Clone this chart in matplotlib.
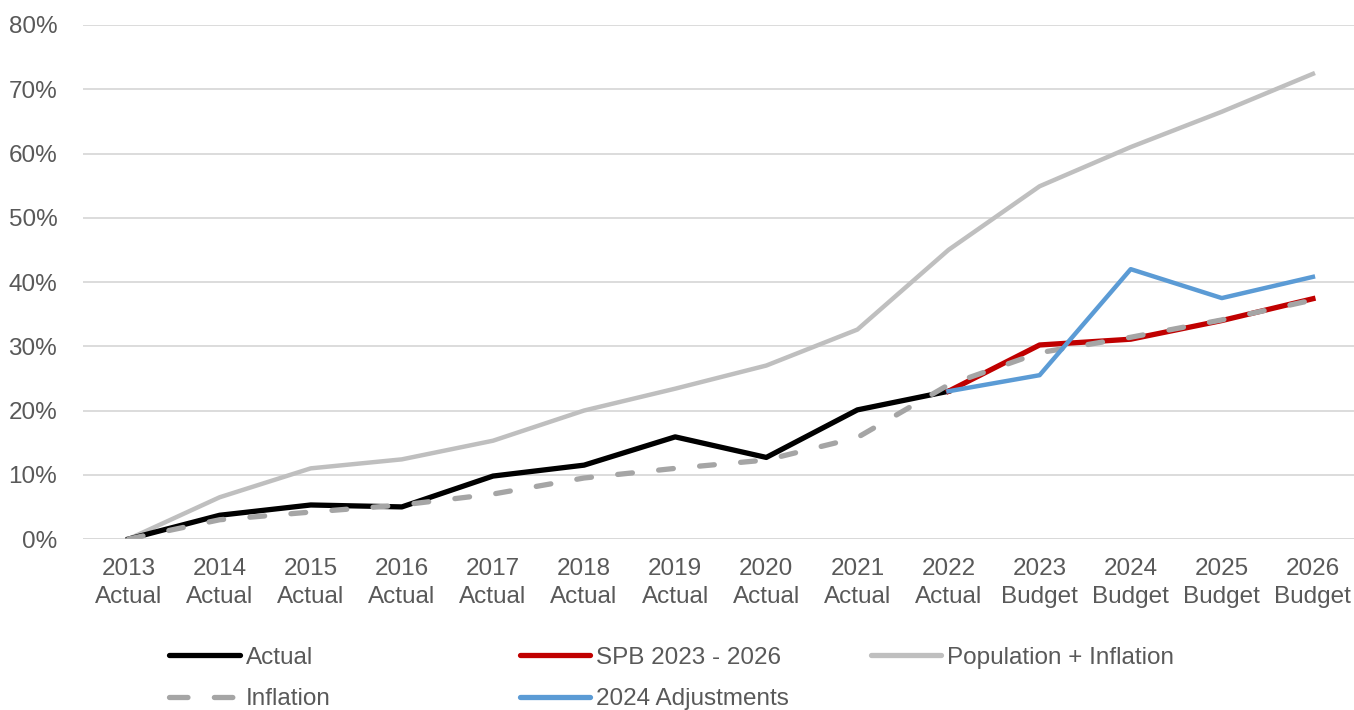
import numpy as np
import matplotlib.pyplot as plt
from matplotlib.lines import Line2D

plt.rcParams['font.family'] = ['Liberation Sans', 'DejaVu Sans']

# categories
years = ["2013", "2014", "2015", "2016", "2017", "2018", "2019", "2020",
         "2021", "2022", "2023", "2024", "2025", "2026"]
kinds = ["Actual"] * 10 + ["Budget"] * 4
labels = [f"{y}\n{k}" for y, k in zip(years, kinds)]

# series values (% growth since 2013)
actual = [0.0, 3.7, 5.3, 5.0, 9.8, 11.5, 15.9, 12.7, 20.1, 23.0]
spb = [23.0, 30.2, 31.1, 34.0, 37.4]
pop_infl = [0.0, 6.5, 11.0, 12.4, 15.3, 20.0, 23.4, 27.0, 32.6, 45.0,
            54.9, 61.0, 66.5, 72.4]
inflation = [0.0, 3.0, 4.2, 5.3, 7.0, 9.5, 11.0, 12.3, 15.8, 24.0,
             29.0, 31.4, 34.1, 37.2]
adjust = [23.0, 25.5, 42.0, 37.5, 40.8]

x = np.arange(len(years))
x_act = x[:10]
x_fut = x[9:]

fig = plt.figure(figsize=(13.54, 7.10), dpi=100)
ax = fig.add_axes([0.0613, 0.2408, 0.942, 0.724])

c_act = "#000000"
c_spb = "#C00000"
c_pop = "#BFBFBF"
c_inf = "#A5A5A5"
c_adj = "#5B9BD5"
fs = 17.5

ax.plot(x, pop_infl, color=c_pop, lw=3.2, zorder=2)
ax.plot(x_act, actual, color=c_act, lw=3.8, zorder=3)
ax.plot(x_fut, spb, color=c_spb, lw=3.8, zorder=3)
ax.plot(x, inflation, color=c_inf, lw=3.8, zorder=4,
        dash_capstyle='round', dashes=(2.8, 5.0))
ax.plot(x_fut, adjust, color=c_adj, lw=3.2, zorder=5)

ax.set_xlim(-0.5, 13.5)
ax.set_ylim(0, 80)
ax.set_yticks(np.arange(0, 81, 10))
ax.set_yticklabels([f"{v}%" for v in range(0, 81, 10)])
ax.set_xticks(x)
ax.set_xticklabels(labels, linespacing=1.39)
ax.tick_params(axis='both', length=0, labelsize=fs, colors="#595959")
ax.tick_params(axis='x', pad=13.5)
ax.tick_params(axis='y', pad=18.5)
ax.grid(axis='y', color="#D9D9D9", lw=1.3)
ax.set_axisbelow(True)
for s in ax.spines.values():
    s.set_visible(False)
ax.axhline(0, color="#D9D9D9", lw=1.3, zorder=1)

# legend in three columns, placed by hand
def handle(color, lw, **kw):
    return Line2D([0], [0], color=color, lw=lw, solid_capstyle='round', **kw)

legend_cols = [
    (0.125, [(handle(c_act, 3.8), "Actual"),
             (handle(c_inf, 3.8, dash_capstyle='round', dashes=(3.5, 5.0)), "Inflation")]),
    (0.384, [(handle(c_spb, 3.8), "SPB 2023 - 2026"),
             (handle(c_adj, 3.8), "2024 Adjustments")]),
    (0.643, [(handle(c_pop, 3.8), "Population + Inflation")]),
]
for xpos, items in legend_cols:
    fig.legend([h for h, _ in items], [t for _, t in items],
               loc='upper left', bbox_to_anchor=(xpos, 0.089),
               bbox_transform=fig.transFigure, frameon=False, fontsize=fs,
               labelcolor="#595959", handlelength=2.9, handletextpad=0.25,
               labelspacing=0.8, borderaxespad=0, borderpad=0)

fig.savefig("out.png", dpi=100)
